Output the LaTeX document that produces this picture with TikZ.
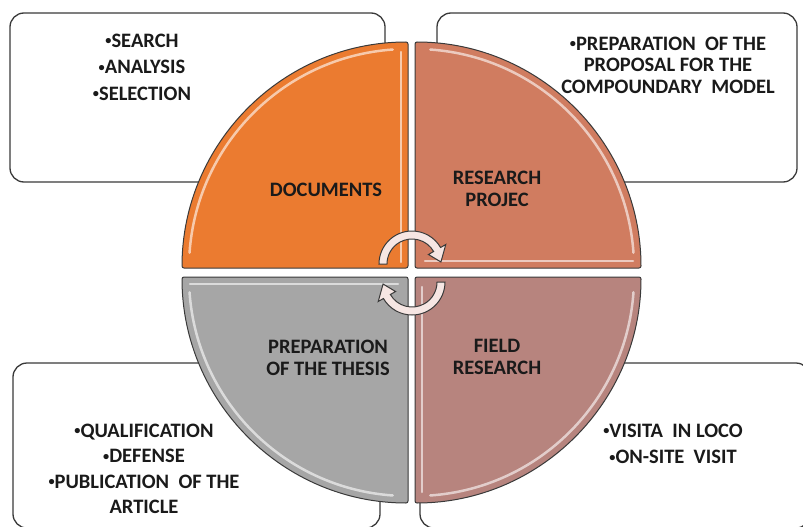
\documentclass[tikz,border=0pt]{standalone}
\usepackage{fontspec}
\setmainfont{Carlito}
\definecolor{docorange}{HTML}{EB7B30}
\definecolor{projsalmon}{HTML}{D07C60}
\definecolor{fieldrose}{HTML}{B7847E}
\definecolor{thesisgray}{HTML}{A6A6A6}
\definecolor{cyclefill}{HTML}{F6E6E3}
\definecolor{edgeline}{HTML}{3A3A3A}
\definecolor{txt}{HTML}{1A1A1A}
\newcommand{\itm}{\raisebox{0.12em}{\scalebox{0.6}{•}}}

\begin{document}
\begin{tikzpicture}[x=1pt,y=-1pt,
    box/.style={draw=edgeline, line width=1.3pt, rounded corners=14pt, fill=white},
    quad/.style={draw=edgeline, line width=1pt, rounded corners=2pt},
    shine/.style={white, opacity=0.6, line width=2.5pt, line cap=round},
    cycle arrow/.style={draw=edgeline, line width=1pt, fill=cyclefill},
    item/.style={font=\fontsize{20.5}{26.5}\selectfont\bfseries, text=txt, align=center, inner sep=0pt},
    qtext/.style={font=\fontsize{20.5}{22.5}\selectfont\bfseries, text=txt, align=center, inner sep=0pt}]
  \useasboundingbox (0,0) rectangle (803,527);
  \clip (0,0) rectangle (803,527);

  % boxes behind the circle
  \draw[box] (10,13) rectangle (385,182);
  \draw[box] (437,13) rectangle (797,182);
  \draw[box] (13,363) rectangle (380,528);
  \draw[box] (420,363) rectangle (810,528);

  % quarters
  \draw[quad, fill=docorange] (408,268) -- ++(-226,0) arc[start angle=180, end angle=270, radius=226] -- cycle;
  \draw[quad, fill=projsalmon] (415,268) -- ++(0,-226) arc[start angle=270, end angle=360, radius=226] -- cycle;
  \draw[quad, fill=fieldrose] (415,277) -- ++(226,0) arc[start angle=0, end angle=90, radius=226] -- cycle;
  \draw[quad, fill=thesisgray] (408,277) -- ++(0,226) arc[start angle=90, end angle=180, radius=226] -- cycle;

  % bevel light
  \draw[shine] (408,268) ++(184:219) arc[start angle=184, end angle=266, radius=219];
  \draw[shine] (401,52) -- (401,262);
  \draw[shine] (415,268) ++(274:219) arc[start angle=274, end angle=356, radius=219];
  \draw[shine] (425,261) -- (633,261);
  \draw[shine] (415,277) ++(4:219) arc[start angle=4, end angle=86, radius=219];
  \draw[shine] (422,287) -- (422,492);
  \draw[shine] (408,277) ++(94:219) arc[start angle=94, end angle=176, radius=219];
  \draw[shine] (190,284) -- (398,284);

  % turning arrows
  \begin{scope}[shift={(412,264)}]
    \draw[cycle arrow] (180:33) arc[start angle=180, end angle=330, radius=33]
      -- (330:39) -- (356:29) -- (330:19) -- (330:25)
      arc[start angle=330, end angle=180, radius=25] -- cycle;
  \end{scope}
  \begin{scope}[shift={(412,282)}]
    \draw[cycle arrow] (0:33) arc[start angle=0, end angle=150, radius=33]
      -- (150:39) -- (176:29) -- (150:19) -- (150:25)
      arc[start angle=150, end angle=0, radius=25] -- cycle;
  \end{scope}

  % quarter titles
  \node[qtext] (docs) at (326,190) {DOCUMENTS};
  \node[qtext] (proj) at (497,189) {RESEARCH\\PROJEC};
  \node[qtext] (thesis) at (328,358) {PREPARATION\\OF THE THESIS};
  \node[qtext] (field) at (497,357) {FIELD\\RESEARCH};

  % box items
  \node[item] (docsitems) at (142,67) {\itm SEARCH\\\itm ANALYSIS\\\itm SELECTION};
  \node[item, font=\fontsize{20.5}{21.5}\selectfont\bfseries] (projitems) at (668,65)
    {\itm PREPARATION\ \ OF THE\\PROPOSAL FOR THE\\COMPOUNDARY\ \ MODEL};
  \node[item, font=\fontsize{20.5}{25.5}\selectfont\bfseries] (thesisitems) at (144,469)
    {\itm QUALIFICATION\\\itm DEFENSE\\\itm PUBLICATION\ \ OF THE\\ARTICLE};
  \node[item] (fielditems) at (673,444) {\itm VISITA\ \ IN LOCO\\\itm ON-SITE\ \ VISIT};
\end{tikzpicture}
\end{document}
